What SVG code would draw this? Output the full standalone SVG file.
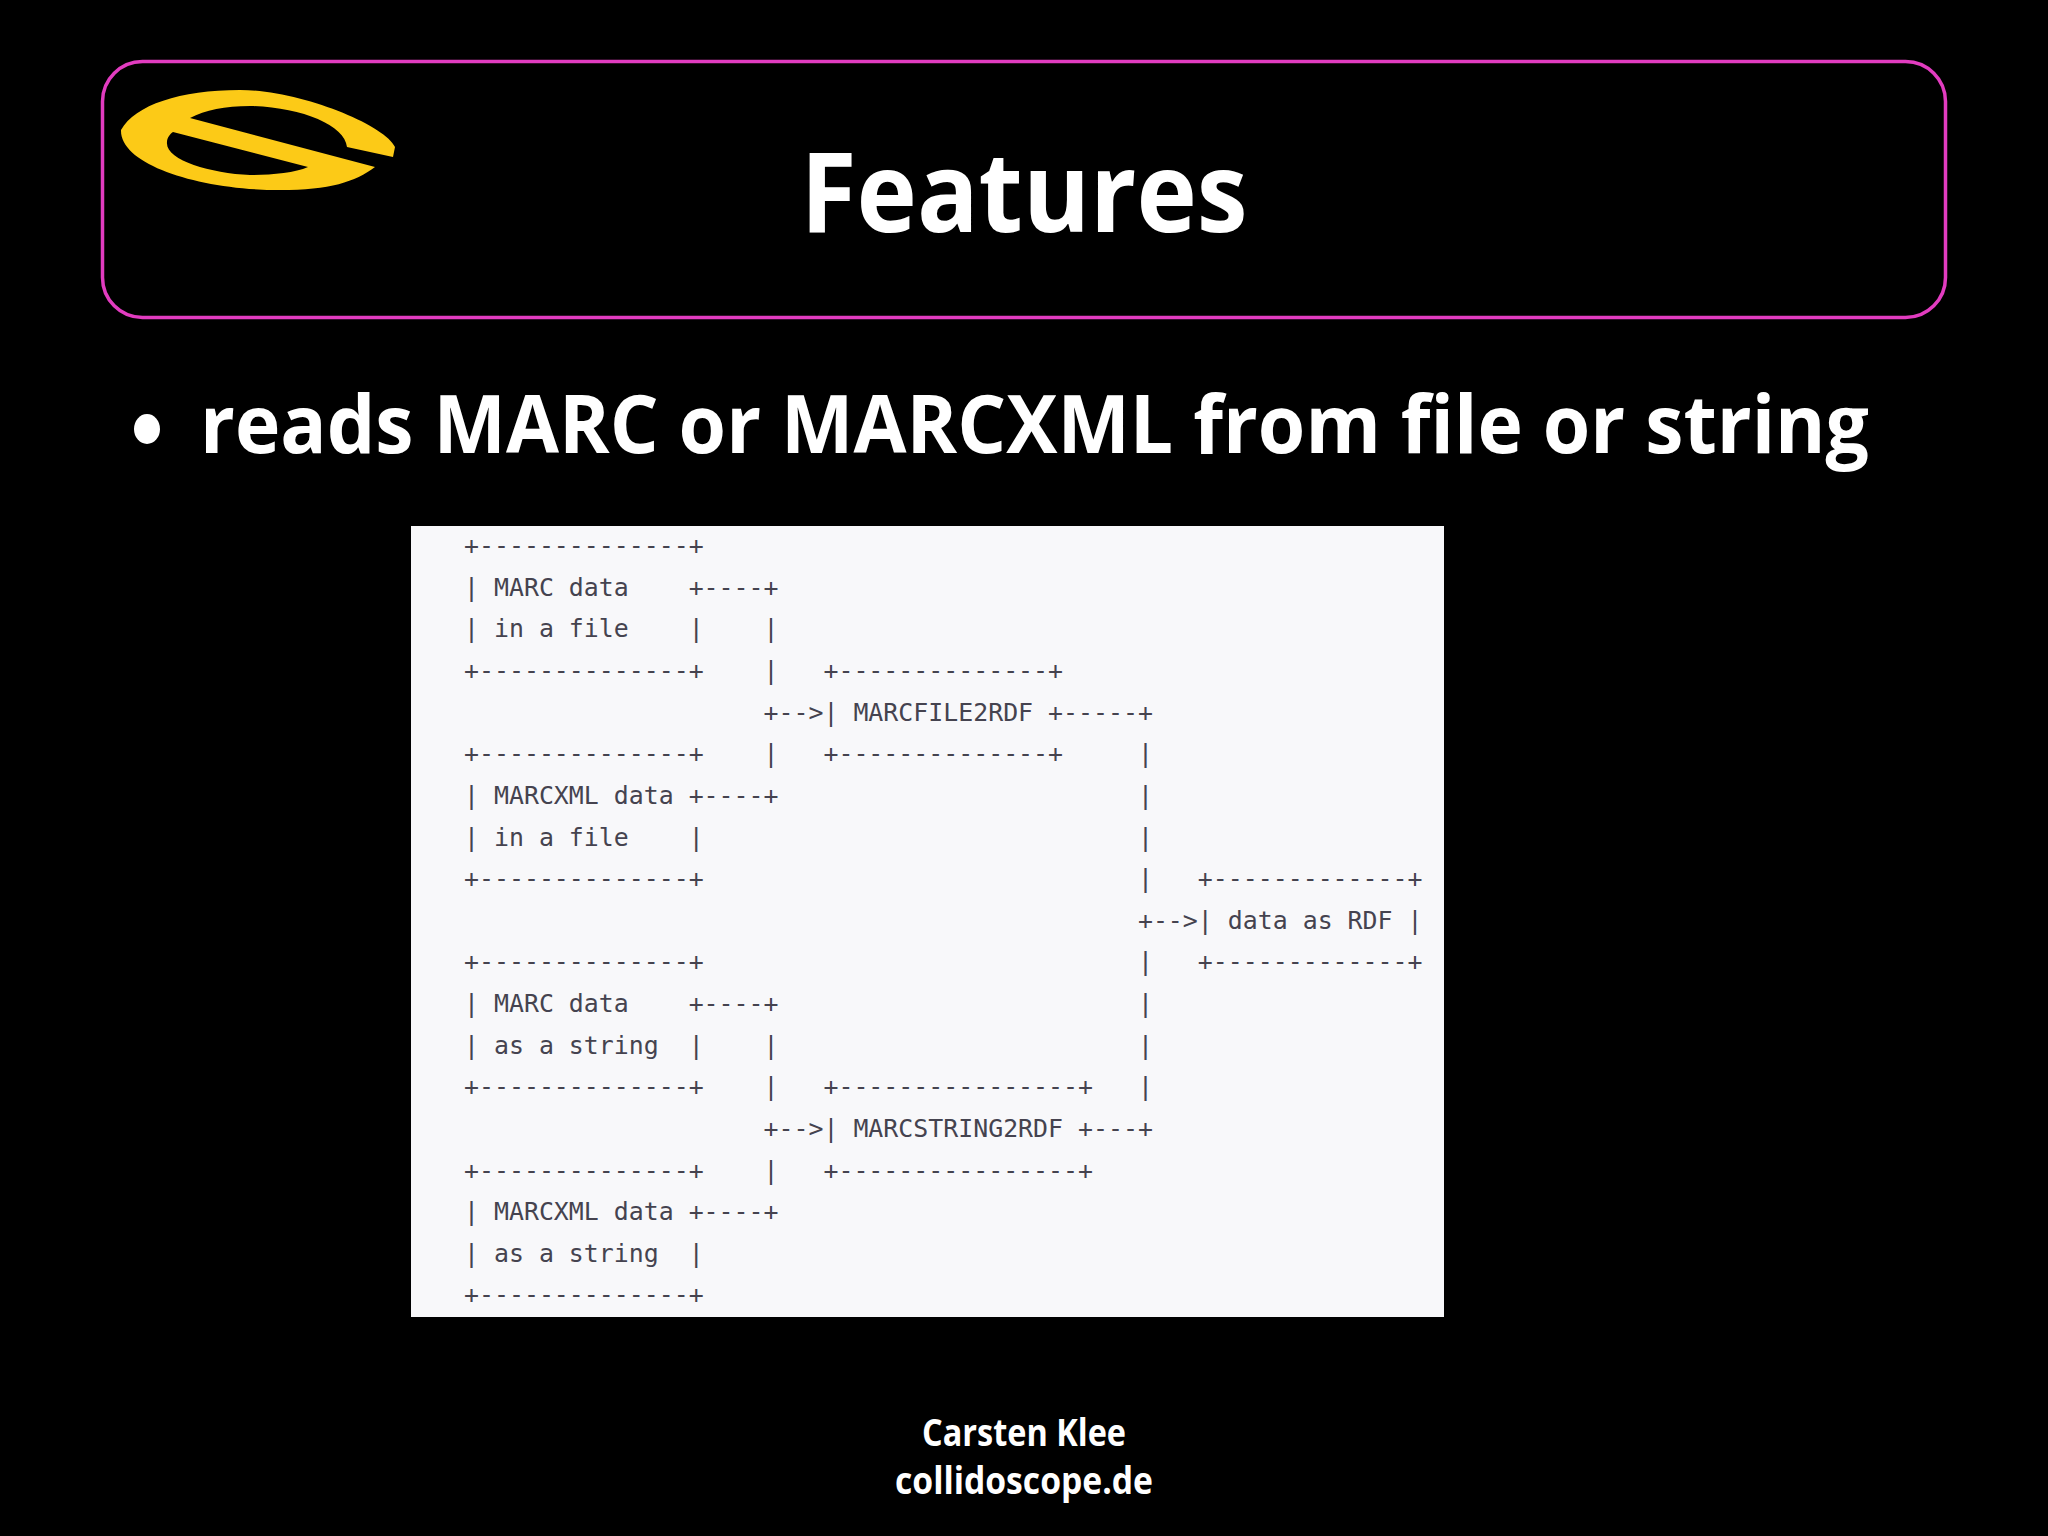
<svg xmlns="http://www.w3.org/2000/svg" width="2048" height="1536" viewBox="0 0 2048 1536">
<style>
.h{font-family:"Open Sans","Lato","Liberation Sans",sans-serif;font-weight:700;fill:#fff}
.a text{font-family:"DejaVu Sans Mono","Liberation Mono",monospace;font-size:24.88px;fill:#45434f;white-space:pre}
</style>
<rect width="2048" height="1536" fill="#000"/>
<g id="header">
<rect x="102.500" y="61.500" width="1843" height="256" rx="40" ry="40" fill="none" stroke="#e23cc0" stroke-width="3.500"/>
<path id="logo" fill="#fcca17" fill-rule="evenodd" d="M121 130C135 105 180 90 240 90C300 90 385 125 395 147L393 157L347 147C345 125 300 107 250 106C225 106 205 110 190 118L375 167C355 182 330 190 280 190C200 190 120 165 121 130ZM173 132L308 167C295 173 270 175 250 175C210 173 165 160 167 142C167 138 170 134 173 132Z"/>
<text class="h" x="1024" y="232" text-anchor="middle" font-size="112" textLength="447" lengthAdjust="spacingAndGlyphs">Features</text>
</g>
<g id="bullet">
<ellipse cx="147" cy="429" rx="13" ry="15" fill="#fff"/>
<text class="h" x="200" y="453" font-size="80" textLength="1669" lengthAdjust="spacingAndGlyphs">reads MARC or MARCXML from file or string</text>
</g>
<g id="ascii-figure" class="a">
<rect x="411" y="526" width="1033" height="791" fill="#f8f8fa"/>
<text x="464" y="554">+--------------+</text>
<text x="464" y="596">| MARC data    +----+</text>
<text x="464" y="637">| in a file    |    |</text>
<text x="464" y="679">+--------------+    |   +--------------+</text>
<text x="464" y="721">                    +-->| MARCFILE2RDF +-----+</text>
<text x="464" y="762">+--------------+    |   +--------------+     |</text>
<text x="464" y="804">| MARCXML data +----+                        |</text>
<text x="464" y="846">| in a file    |                             |</text>
<text x="464" y="887">+--------------+                             |   +-------------+</text>
<text x="464" y="929">                                             +-->| data as RDF |</text>
<text x="464" y="970">+--------------+                             |   +-------------+</text>
<text x="464" y="1012">| MARC data    +----+                        |</text>
<text x="464" y="1054">| as a string  |    |                        |</text>
<text x="464" y="1095">+--------------+    |   +----------------+   |</text>
<text x="464" y="1137">                    +-->| MARCSTRING2RDF +---+</text>
<text x="464" y="1179">+--------------+    |   +----------------+</text>
<text x="464" y="1220">| MARCXML data +----+</text>
<text x="464" y="1262">| as a string  |</text>
<text x="464" y="1303">+--------------+</text>
</g>
<g id="footer">
<text class="h" x="1024" y="1446" text-anchor="middle" font-size="37" textLength="204" lengthAdjust="spacingAndGlyphs">Carsten Klee</text>
<text class="h" x="1024" y="1494" text-anchor="middle" font-size="37" textLength="258" lengthAdjust="spacingAndGlyphs">collidoscope.de</text>
</g>
</svg>
